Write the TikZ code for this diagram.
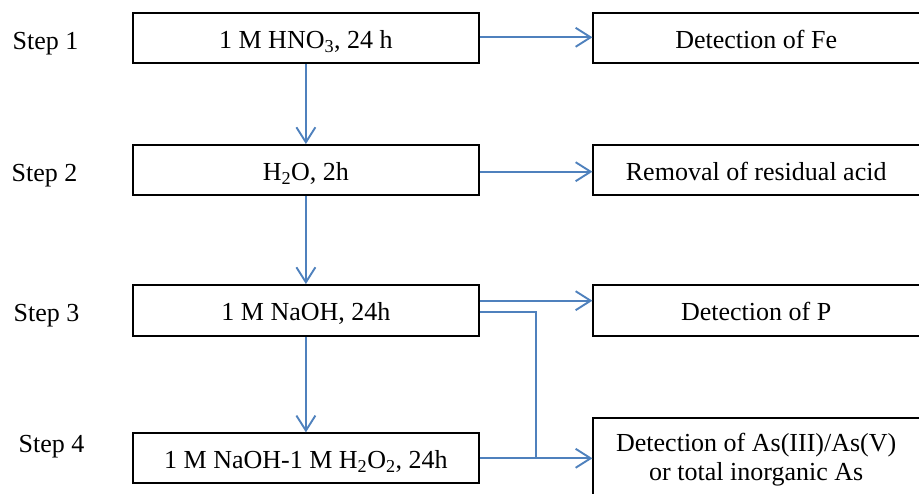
\documentclass[tikz,border=0pt]{standalone}
\usepackage{fontspec}
\setmainfont{Liberation Serif}
\usetikzlibrary{arrows.meta}
\definecolor{lineblue}{RGB}{79,129,189}
\begin{document}
\begin{tikzpicture}[x=1pt,y=-1pt,
  every node/.style={font=\fontsize{26}{29.5}\selectfont},
  lbox/.style={draw=black,line width=1.9pt,minimum width=346.3pt,inner sep=0pt,text height=21pt,text depth=0pt},
  rbox/.style={draw=black,line width=1.9pt,minimum width=331.7pt,inner sep=0pt},
  rtext/.style={text height=21pt,text depth=0pt},
  steplabel/.style={anchor=base west,inner sep=0pt},
  conn/.style={draw=lineblue,line width=1.9pt},
  arr/.style={conn,-{Straight Barb[length=15pt,width=19pt,line width=1.9pt]}}
]
\useasboundingbox (0,0) rectangle (919,494);

% step labels
\node[steplabel] (s1) at (12.5,50) {Step 1};
\node[steplabel] (s2) at (11.5,182) {Step 2};
\node[steplabel] (s3) at (13.5,322) {Step 3};
\node[steplabel] (s4) at (18.5,453) {Step 4};

% left boxes
\node[lbox,minimum height=50pt] (b1) at (305.9,38.3) {1 M HNO\textsubscript{3}, 24 h};
\node[lbox,minimum height=50pt] (b2) at (305.9,170) {H\textsubscript{2}O, 2h};
\node[lbox,minimum height=51pt] (b3) at (305.9,310.5) {1 M NaOH, 24h};
\node[lbox,minimum height=49.4pt] (b4) at (305.9,458) {1 M NaOH-1 M H\textsubscript{2}O\textsubscript{2}, 24h};

% right boxes (open to the right edge)
\node[rbox,rtext,minimum height=50pt] (r1) at (759.2,38.3) {Detection of Fe\hspace*{6pt}};
\node[rbox,rtext,minimum height=50pt] (r2) at (759.2,170) {Removal of residual acid\hspace*{6pt}};
\node[rbox,rtext,minimum height=51pt] (r3) at (759.2,310.5) {Detection of P\hspace*{6pt}};
\node[rbox,minimum height=83.3pt,align=center] (r4) at (759.2,459.5) {Detection of As(III)/As(V)\hspace*{6pt}\\or total inorganic As\hspace*{6pt}};

% connectors
\draw[arr] (b1.east |- 0,37.3) -- (r1.west |- 0,37.3);
\draw[arr] (b1.south) -- (b2.north);
\draw[arr] (b2.east |- 0,171.7) -- (r2.west |- 0,171.7);
\draw[arr] (b2.south) -- (b3.north);
\draw[arr] (b3.east |- 0,300.7) -- (r3.west |- 0,300.7);
\draw[arr] (b3.south) -- (b4.north);
\coordinate (j) at (536,458.3);
\draw[conn] (b3.east |- 0,311.7) -| (j);
\draw[arr] (b4.east |- j) -- (r4.west |- j);
\end{tikzpicture}
\end{document}
